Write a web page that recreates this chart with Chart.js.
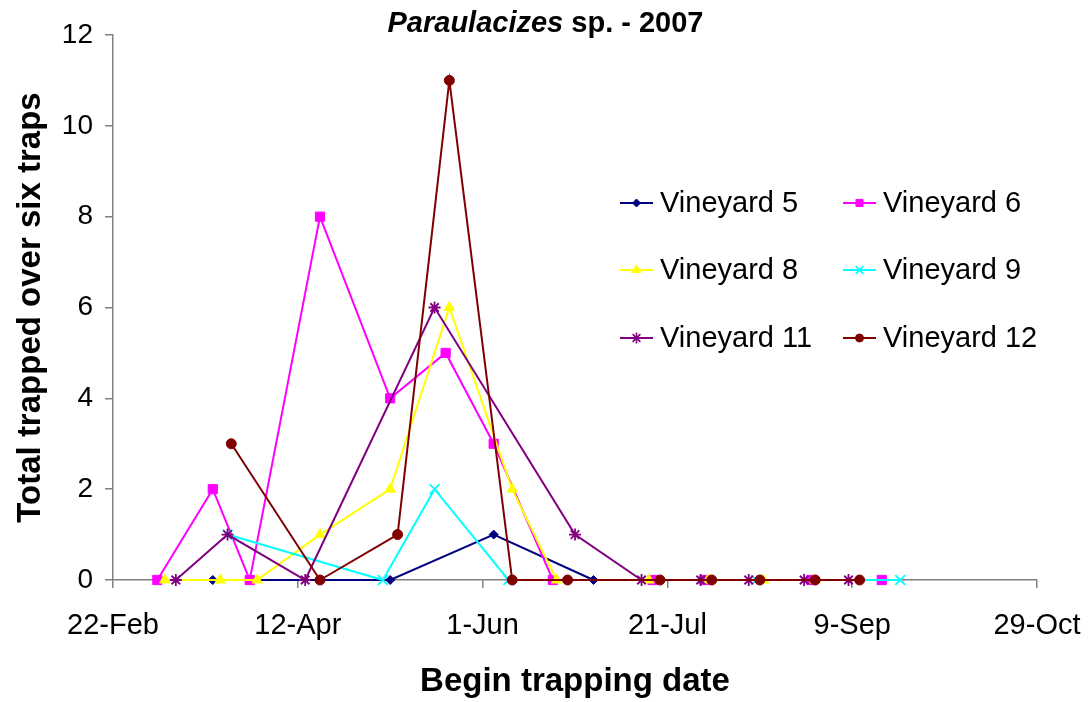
<!DOCTYPE html>
<html>
<head>
<meta charset="utf-8">
<script src="https://cdn.jsdelivr.net/npm/chart.js@4.4.1/dist/chart.umd.min.js"></script>
<style>
  body { margin: 0; background: #fff; }
  #wrap { position: relative; width: 1091px; height: 702px; }
  #title {
    position: absolute; left: 0; top: 5px; width: 1091px;
    text-align: center; font: bold 29px Arial, "Liberation Sans", sans-serif;
    line-height: 34px; color: #000;
  }
</style>
</head>
<body>
<div id="wrap">
  <canvas id="chart" width="1091" height="702"></canvas>
  <div id="title"><i>Paraulacizes</i> sp. - 2007</div>
</div>
<script>
// x = days after 22-Feb (axis ticks every 50 days)
const tickLabels = ['22-Feb', '12-Apr', '1-Jun', '21-Jul', '9-Sep', '29-Oct'];
const seriesNames = ['Vineyard 5', 'Vineyard 6', 'Vineyard 8', 'Vineyard 9', 'Vineyard 11', 'Vineyard 12'];

const v5Days = [27, 75, 103, 130];
const v5Values = [0, 0, 1, 0];

const v6Days = [12, 27, 37, 56, 75, 90, 103, 119, 146, 160, 189, 208];
const v6Values = [0, 2, 0, 8, 4, 5, 3, 0, 0, 0, 0, 0];

const v8Days = [14, 29, 39, 56, 75, 91, 108, 120, 145, 161, 176, 190];
const v8Values = [0, 0, 0, 1, 2, 6, 2, 0, 0, 0, 0, 0];

const v9Days = [31, 73, 87, 107, 174, 213];
const v9Values = [1, 0, 2, 0, 0, 0];

const v11Days = [17, 31, 52, 87, 125, 143, 159, 172, 187, 199];
const v11Values = [0, 1, 0, 6, 1, 0, 0, 0, 0, 0];

const v12Days = [32, 56, 77, 91, 108, 123, 148, 162, 175, 190, 202];
const v12Values = [3, 0, 1, 11, 0, 0, 0, 0, 0, 0, 0];

const FONT = 'Arial, "Liberation Sans", sans-serif';

function toPoints(days, values) {
    return days.map((d, i) => ({ x: d, y: values[i] }));
}

// colour, marker, radius in plot, radius in legend
const styles = [
    { color: '#000080', shape: 'rectRot',  r: 4.5, lr: 4 },
    { color: '#FF00FF', shape: 'rect',     r: 6.5, lr: 5 },
    { color: '#FFFF00', shape: 'triangle', r: 6,   lr: 5 },
    { color: '#00FFFF', shape: 'crossRot', r: 7,   lr: 5.5 },
    { color: '#800080', shape: 'star',     r: 6,   lr: 5.5 },
    { color: '#800000', shape: 'circle',   r: 5,   lr: 4 }
];

const allData = [
    toPoints(v5Days, v5Values),
    toPoints(v6Days, v6Values),
    toPoints(v8Days, v8Values),
    toPoints(v9Days, v9Values),
    toPoints(v11Days, v11Values),
    toPoints(v12Days, v12Values)
];

const datasets = allData.map((pts, i) => ({
    label: seriesNames[i],
    data: pts,
    borderColor: styles[i].color,
    backgroundColor: styles[i].color,
    pointBackgroundColor: styles[i].color,
    pointBorderColor: styles[i].color,
    pointStyle: styles[i].shape,
    pointRadius: styles[i].r,
    pointBorderWidth: (styles[i].shape === 'crossRot' || styles[i].shape === 'star') ? 1.8 : 1,
    borderWidth: 2,
    tension: 0,
    clip: false,
    order: seriesNames.length - i   // last series on top, like Excel
}));

// legend drawn inside the plot, 2 columns x 3 rows
const legendPlugin = {
    id: 'insideLegend',
    afterDraw(chart) {
        const ctx = chart.ctx;
        const cols = [620, 843];
        const rows = [203, 270, 338];
        ctx.save();
        seriesNames.forEach((name, i) => {
            const x = cols[i % 2];
            const y = rows[Math.floor(i / 2)];
            const st = styles[i];
            ctx.strokeStyle = st.color;
            ctx.fillStyle = st.color;
            ctx.lineWidth = 2;
            ctx.beginPath();
            ctx.moveTo(x, y);
            ctx.lineTo(x + 33, y);
            ctx.stroke();
            ctx.lineWidth = (st.shape === 'crossRot' || st.shape === 'star') ? 1.6 : 1;
            Chart.helpers.drawPoint(ctx, { pointStyle: st.shape, radius: st.lr, rotation: 0, borderWidth: 1 }, x + 16.5, y);
            ctx.fillStyle = '#000';
            ctx.font = '29px ' + FONT;
            ctx.textAlign = 'left';
            ctx.textBaseline = 'middle';
            ctx.fillText(name, x + 40, y + 1);
        });
        ctx.restore();
    }
};

new Chart(document.getElementById('chart'), {
    type: 'line',
    data: { datasets: datasets },
    options: {
        responsive: false,
        animation: false,
        devicePixelRatio: 1,
        layout: { padding: { left: 0, right: 54, top: 35, bottom: 0 } },
        plugins: {
            legend: { display: false },
            tooltip: { enabled: false },
            title: { display: false }
        },
        scales: {
            x: {
                type: 'linear',
                min: 0,
                max: 250,
                afterFit(scale) {
                    scale.height = 122;
                    scale.paddingLeft = 0;
                    scale.paddingRight = 0;
                },
                border: { color: '#808080', width: 1.5 },
                grid: { drawOnChartArea: false, drawTicks: true, tickLength: 8, color: '#808080', lineWidth: 1.5 },
                ticks: {
                    stepSize: 50,
                    autoSkip: false,
                    maxRotation: 0,
                    padding: 21,
                    color: '#000',
                    font: { family: FONT, size: 29 },
                    callback: v => tickLabels[Math.round(v / 50)]
                },
                title: {
                    display: true,
                    text: 'Begin trapping date',
                    color: '#000',
                    font: { family: FONT, size: 33, weight: 'bold' },
                    padding: { top: 0, bottom: 0 }
                }
            },
            y: {
                min: 0,
                max: 12,
                afterFit(scale) {
                    scale.width = 113;
                    scale.paddingTop = 0;
                    scale.paddingBottom = 0;
                },
                border: { color: '#808080', width: 1.5 },
                grid: { drawOnChartArea: false, drawTicks: true, tickLength: 8, color: '#808080', lineWidth: 1.5 },
                ticks: {
                    stepSize: 2,
                    padding: 12,
                    color: '#000',
                    font: { family: FONT, size: 28 }
                },
                title: {
                    display: true,
                    text: 'Total trapped over six traps',
                    color: '#000',
                    font: { family: FONT, size: 33, weight: 'bold' },
                    padding: { top: 11, bottom: 0 }
                }
            }
        }
    },
    plugins: [legendPlugin]
});
</script>
</body>
</html>
